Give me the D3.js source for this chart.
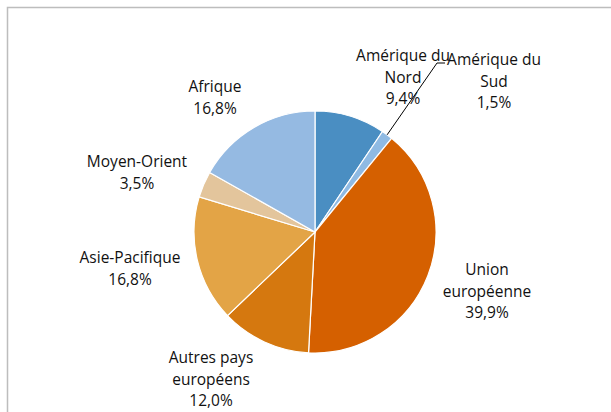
<!DOCTYPE html>
<meta charset="utf-8">
<style>
  body { margin: 0; background: #fff; }
  text { font-family: "Open Sans", sans-serif; font-size: 15.5px; fill: #111; }
</style>
<svg width="611" height="412"></svg>
<script src="https://d3js.org/d3.v7.min.js"></script>
<script>
// regions and their share (%)
var regions = ['Amérique du Nord', 'Amérique du Sud', 'Union européenne', 'Autres pays européens', 'Asie-Pacifique', 'Moyen-Orient', 'Afrique']
var shares = [9.4, 1.5, 39.9, 12.0, 16.8, 3.5, 16.8]
var labelLines = [
  ['Amérique du', 'Nord', '9,4%'],
  ['Amérique du', 'Sud', '1,5%'],
  ['Union', 'européenne', '39,9%'],
  ['Autres pays', 'européens', '12,0%'],
  ['Asie-Pacifique', '16,8%'],
  ['Moyen-Orient', '3,5%'],
  ['Afrique', '16,8%']
]
var colors = ['#4a8ec2', '#8fbae3', '#d56000', '#d5780f', '#e3a446', '#e3c59c', '#95bae2']

// label anchor (centre of first line's baseline) for each slice
var labelPos = [[403, 61], [494, 65], [487, 275], [211, 363], [130, 263], [137, 167], [215, 92]]

var svg = d3.select('svg')

// chart frame (runs off the right and bottom edges)
svg.append('rect')
  .attr('x', 7.5).attr('y', 7.5)
  .attr('width', 640).attr('height', 440)
  .attr('fill', 'none')
  .attr('stroke', '#bdbdbd')
  .attr('stroke-width', 1.5)

var cx = 315, cy = 232, r = 121

var pie = d3.pie().sort(null).value(function (d) { return d })
var arcs = pie(shares)
var arc = d3.arc().innerRadius(0).outerRadius(r)

var g = svg.append('g').attr('transform', 'translate(' + cx + ',' + cy + ')')

g.selectAll('path')
  .data(arcs)
  .enter().append('path')
  .attr('d', arc)
  .attr('fill', function (d, i) { return colors[i] })
  .attr('stroke', '#fff')
  .attr('stroke-width', 1.2)

// leader line for the small slice (Amérique du Sud)
var small = arcs[1]
var mid = (small.startAngle + small.endAngle) / 2
var edge = [cx + r * Math.sin(mid), cy - r * Math.cos(mid)]
svg.append('polyline')
  .attr('points', [edge, [437, 63], [445, 63]].map(function (p) { return p.join(',') }).join(' '))
  .attr('fill', 'none')
  .attr('stroke', '#000')
  .attr('stroke-width', 1)

// labels
var lineH = 21.5
labelLines.forEach(function (lines, i) {
  var t = svg.append('text')
    .attr('text-anchor', 'middle')
    .attr('x', labelPos[i][0])
    .attr('y', labelPos[i][1])
  lines.forEach(function (s, j) {
    t.append('tspan')
      .attr('x', labelPos[i][0])
      .attr('dy', j === 0 ? 0 : lineH)
      .text(s)
  })
})
</script>
